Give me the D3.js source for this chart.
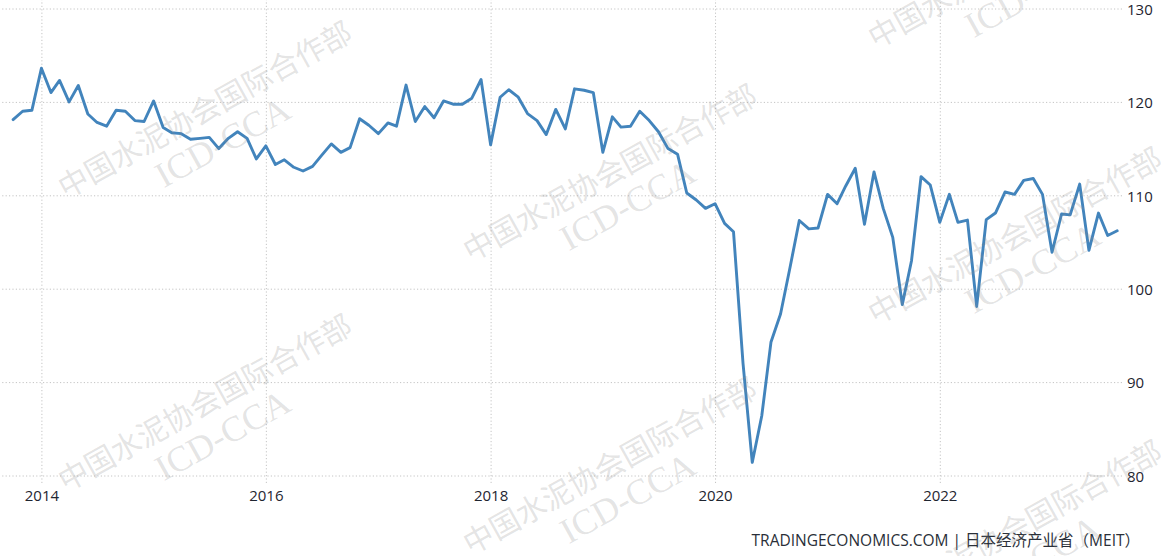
<!DOCTYPE html>
<html>
<head>
<meta charset="utf-8">
<script src="https://cdn.jsdelivr.net/npm/d3@7"></script>
<style>
  html, body { margin: 0; padding: 0; background: #fff; }
  svg { display: block; }
</style>
</head>
<body>
<svg id="chart" width="1161" height="556"></svg>
<script>
// ---- Data (monthly index, Oct 2013 – Aug 2023) ----
const startMonth = "2013-10-01";
const values2013 = [118.1, 119.0, 119.1];
const values2014 = [123.6, 121.0, 122.3, 120.0, 121.75, 118.7, 117.8, 117.4, 119.1, 119.0, 118.0, 117.9];
const values2015 = [120.1, 117.25, 116.7, 116.6, 116.0, 116.1, 116.2, 115.0, 116.1, 116.8, 116.1, 113.9];
const values2016 = [115.3, 113.3, 113.8, 113.0, 112.6, 113.1, 114.3, 115.5, 114.6, 115.1, 118.2, 117.5];
const values2017 = [116.6, 117.75, 117.4, 121.8, 117.9, 119.5, 118.3, 120.1, 119.75, 119.75, 120.4, 122.4];
const values2018 = [115.4, 120.5, 121.3, 120.5, 118.75, 118.0, 116.5, 119.2, 117.1, 121.4, 121.25, 121.0];
const values2019 = [114.6, 118.4, 117.3, 117.4, 119.0, 118.0, 116.8, 115.0, 114.4, 110.25, 109.5, 108.6];
const values2020 = [109.1, 107.0, 106.1, 92.0, 81.4, 86.4, 94.3, 97.3, 102.3, 107.3, 106.4, 106.5];
const values2021 = [110.1, 109.1, 111.0, 112.9, 106.9, 112.5, 108.6, 105.5, 98.3, 103.0, 112.0, 111.1];
const values2022 = [107.1, 110.1, 107.1, 107.35, 98.1, 107.4, 108.1, 110.35, 110.1, 111.6, 111.8, 110.1];
const values2023 = [103.9, 108.0, 107.9, 111.2, 104.1, 108.1, 105.7, 106.2];

const yTicks = [80, 90, 100, 110, 120, 130];
const xTickYears = [2014, 2016, 2018, 2020, 2022];
const footerText = "TRADINGECONOMICS.COM | 日本经济产业省（MEIT）";
const watermarkCN = "中国水泥协会国际合作部";
const watermarkEN = "ICD-CCA";

// ---- Build series ----
const allValues = [].concat(values2013, values2014, values2015, values2016, values2017,
  values2018, values2019, values2020, values2021, values2022, values2023);
const start = d3.timeParse("%Y-%m-%d")(startMonth);
const series = allValues.map((v, i) => ({ date: d3.timeMonth.offset(start, i), value: v }));

const svg = d3.select("#chart");

const x = d3.scaleTime()
  .domain([new Date(2014, 0, 1), new Date(2022, 0, 1)])
  .range([41.4, 939.8]);
const y = d3.scaleLinear().domain([80, 130]).range([475.5, 8.5]);

const gridColor = "#c4c4c4";
const textColor = "#1f2530";
const font = "'Open Sans', 'Noto Sans', sans-serif";

// Horizontal gridlines
const yGrid = svg.append("g").attr("transform", "translate(1122,0)")
  .call(d3.axisLeft(y).tickValues(yTicks).tickSize(1122).tickFormat(""));
yGrid.select(".domain").remove();
yGrid.selectAll("line").attr("stroke", gridColor).attr("stroke-dasharray", "1.2,2.2");

// Vertical gridlines
const xGrid = svg.append("g").attr("transform", "translate(0,483)")
  .call(d3.axisTop(x).tickValues(xTickYears.map(yr => new Date(yr, 0, 1))).tickSize(483).tickFormat(""));
xGrid.select(".domain").remove();
xGrid.selectAll("line").attr("stroke", gridColor).attr("stroke-dasharray", "1.2,2.2");

// Y axis labels (right)
const yAxis = svg.append("g").attr("transform", "translate(1127,0)")
  .call(d3.axisRight(y).tickValues(yTicks).tickSize(0).tickPadding(0).tickFormat(d3.format("d")));
yAxis.select(".domain").remove();
yAxis.selectAll("text").attr("fill", textColor).style("font-family", font).style("font-size", "15px")
  .attr("text-anchor", "start").attr("dy", "0.38em");

// X axis labels
const xAxis = svg.append("g").attr("transform", "translate(0,485)")
  .call(d3.axisBottom(x).tickValues(xTickYears.map(yr => new Date(yr, 0, 1))).tickSize(0).tickPadding(0)
    .tickFormat(d3.timeFormat("%Y")));
xAxis.select(".domain").remove();
xAxis.selectAll("text").attr("fill", textColor).style("font-family", font).style("font-size", "15px")
  .attr("dy", "1.05em");

// Line
const line = d3.line().x(d => x(d.date)).y(d => y(d.value));
svg.append("path").datum(series)
  .attr("d", line)
  .attr("fill", "none")
  .attr("stroke", "#4284bc")
  .attr("stroke-width", 2.9)
  .attr("stroke-linejoin", "round")
  .attr("stroke-linecap", "round");

// Footer
svg.append("text")
  .attr("x", 1140).attr("y", 546)
  .attr("text-anchor", "end")
  .attr("fill", "#2a2f38")
  .style("font-family", "'Open Sans', 'Noto Sans CJK SC', sans-serif")
  .style("font-size", "15.5px")
  .text(footerText);

// Watermarks (only the copies that reach into the picture)
const wm = svg.append("g").attr("pointer-events", "none");
const wmCenters = [
  [205, 110], [205, 403],
  [610, 173], [610, 466],
  [1015, -40], [1015, 236], [1015, 529]
];
wmCenters.forEach(([cx, cy]) => {
  const g = wm.append("g").attr("transform", `translate(${cx},${cy}) rotate(-29)`);
  g.append("text")
    .attr("text-anchor", "middle")
    .attr("dy", "0.35em")
    .attr("fill", "rgba(140,140,140,0.24)")
    .style("font-family", "'Noto Sans CJK SC', serif")
    .style("font-size", "30px")
    .text(watermarkCN);
  g.append("text")
    .attr("text-anchor", "middle")
    .attr("y", 36)
    .attr("dy", "0.35em")
    .attr("fill", "rgba(140,140,140,0.24)")
    .style("font-family", "'Liberation Serif', 'DejaVu Serif', serif")
    .style("font-size", "36px")
    .text(watermarkEN);
});
</script>
</body>
</html>
